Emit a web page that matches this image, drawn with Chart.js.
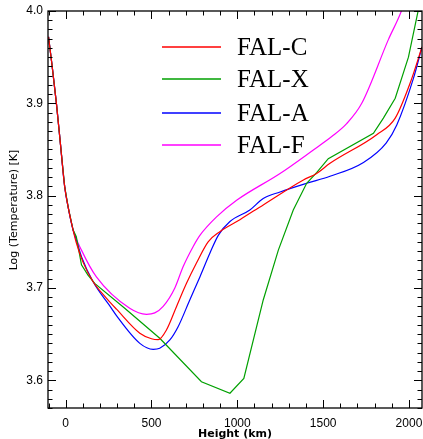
<!DOCTYPE html>
<html>
<head>
<meta charset="utf-8">
<script src="https://cdn.jsdelivr.net/npm/chart.js@4"></script>
<style>
  html, body { margin: 0; padding: 0; background: #fff; }
  #wrap { width: 423px; height: 439px; position: relative; }
</style>
</head>
<body>
<div id="wrap"><canvas id="falChart"></canvas></div>
<script>
// FAL model temperature profiles
const seriesNames = ['FAL-C', 'FAL-X', 'FAL-A', 'FAL-F'];
const seriesColors = ['#ff0000', '#00a000', '#0000ff', '#ff00ff'];

const heightC = [-100, -80, -54, -30, -6, 15, 43, 62, 101, 159, 237, 296, 432, 500, 539, 587, 646, 704, 762, 830, 898, 1015, 1151, 1385, 1462, 1540, 1812, 1920, 2007, 2076];
const logTC   = [3.972, 3.942, 3.900, 3.855, 3.810, 3.787, 3.763, 3.749, 3.728, 3.707, 3.689, 3.677, 3.651, 3.645, 3.644, 3.6545, 3.680, 3.705, 3.727, 3.750, 3.761, 3.774, 3.790, 3.817, 3.824, 3.835, 3.866, 3.884, 3.922, 3.961];

const heightX = [-100, -80, -54, -30, -6, 15, 43, 62, 92, 130, 169, 344, 548, 791, 957, 1038, 1151, 1239, 1326, 1404, 1462, 1530, 1793, 1851, 1920, 1997, 2060];
const logTX   = [3.972, 3.942, 3.900, 3.855, 3.810, 3.787, 3.763, 3.7556, 3.725, 3.714, 3.705, 3.678, 3.6455, 3.5985, 3.586, 3.602, 3.687, 3.741, 3.7845, 3.8134, 3.825, 3.840, 3.8676, 3.884, 3.9055, 3.950, 4.006];

const heightA = [-100, -80, -54, -30, -6, 15, 43, 62, 92, 159, 267, 296, 432, 510, 548, 607, 655, 723, 782, 840, 889, 957, 1073, 1151, 1249, 1404, 1540, 1735, 1867, 1929, 2026, 2076];
const logTA   = [3.972, 3.942, 3.900, 3.855, 3.810, 3.787, 3.763, 3.752, 3.734, 3.707, 3.678, 3.670, 3.640, 3.6336, 3.6347, 3.6437, 3.658, 3.687, 3.712, 3.7376, 3.757, 3.772, 3.7845, 3.797, 3.804, 3.8134, 3.821, 3.836, 3.857, 3.8766, 3.927, 3.961];

const heightF = [-100, -80, -54, -30, -6, 15, 43, 92, 179, 373, 471, 519, 568, 636, 684, 743, 782, 879, 996, 1249, 1443, 1550, 1637, 1725, 1880, 1958, 1990];
const logTF   = [3.972, 3.942, 3.900, 3.855, 3.810, 3.787, 3.763, 3.741, 3.712, 3.678, 3.6715, 3.673, 3.680, 3.700, 3.723, 3.745, 3.757, 3.777, 3.795, 3.824, 3.8495, 3.864, 3.878, 3.900, 3.969, 4.001, 4.02];

const xMajorTicks = [0, 500, 1000, 1500, 2000];
const yMajorTicks = [3.6, 3.7, 3.8, 3.9, 4.0];

function toPoints(xs, ys) {
    return xs.map((x, i) => ({ x: x, y: ys[i] }));
}

const allHeights = [heightC, heightX, heightA, heightF];
const allLogT = [logTC, logTX, logTA, logTF];

// IDL-style box with inward ticks on all four sides
const frameTicks = {
    id: 'frameTicks',
    afterDatasetsDraw(chart) {
        const ctx = chart.ctx;
        const a = chart.chartArea;
        const xs = chart.scales.x;
        const ys = chart.scales.y;
        ctx.save();
        ctx.strokeStyle = '#000';
        ctx.lineWidth = 1.3;
        ctx.strokeRect(a.left, a.top, a.right - a.left, a.bottom - a.top);
        ctx.lineWidth = 1;
        ctx.beginPath();
        for (let v = -100; v <= xs.max; v += 100) {
            if (v < xs.min) continue;
            const px = Math.round(xs.getPixelForValue(v)) + 0.5;
            const len = v % 500 === 0 ? 8 : 4.5;
            ctx.moveTo(px, a.bottom); ctx.lineTo(px, a.bottom - len);
            ctx.moveTo(px, a.top); ctx.lineTo(px, a.top + len);
        }
        for (let k = 357; k <= 400; k++) {
            const v = k / 100;
            if (v < ys.min) continue;
            const py = Math.round(ys.getPixelForValue(v)) + 0.5;
            const len = k % 10 === 0 ? 8 : 4.5;
            ctx.moveTo(a.left, py); ctx.lineTo(a.left + len, py);
            ctx.moveTo(a.right, py); ctx.lineTo(a.right - len, py);
        }
        ctx.stroke();

        // axis titles
        ctx.fillStyle = '#000';
        ctx.font = 'bold 11px "DejaVu Sans"';
        ctx.textAlign = 'center';
        ctx.textBaseline = 'middle';
        ctx.fillText('Height (km)', 235, 434);
        ctx.save();
        ctx.translate(14, 210);
        ctx.rotate(-Math.PI / 2);
        ctx.font = '11px "DejaVu Sans"';
        ctx.fillText('Log (Temperature) [K]', 0, 0);
        ctx.restore();

        // legend inside the plot
        ctx.font = '25px "Liberation Serif"';
        ctx.textAlign = 'left';
        ctx.textBaseline = 'alphabetic';
        const legendY = [47, 79, 113, 145];
        chart.data.datasets.forEach((ds, i) => {
            ctx.strokeStyle = ds.borderColor;
            ctx.lineWidth = 1.3;
            ctx.beginPath();
            ctx.moveTo(162, legendY[i]);
            ctx.lineTo(221, legendY[i]);
            ctx.stroke();
            ctx.fillText(ds.label, 237, legendY[i] + 8);
        });
        ctx.restore();
    }
};

function noOverhang(scale) {
    scale.paddingLeft = 0;
    scale.paddingRight = 0;
    scale.paddingTop = 0;
    scale.paddingBottom = 0;
}

const ctx = document.getElementById('falChart').getContext('2d');
new Chart(ctx, {
    type: 'scatter',
    data: {
        datasets: seriesNames.map((name, i) => ({
            label: name,
            data: toPoints(allHeights[i], allLogT[i]),
            showLine: true,
            borderColor: seriesColors[i],
            backgroundColor: seriesColors[i],
            borderWidth: 1.2,
            pointRadius: 0,
            cubicInterpolationMode: name === 'FAL-X' ? 'default' : 'monotone',
            tension: 0
        }))
    },
    options: {
        responsive: true,
        maintainAspectRatio: false,
        animation: false,
        layout: { padding: { top: 11, right: 1, left: 0, bottom: 0 } },
        plugins: {
            legend: { display: false },
            tooltip: { enabled: false }
        },
        scales: {
            x: {
                type: 'linear',
                min: -103,
                max: 2076,
                afterFit(scale) { scale.height = 31; noOverhang(scale); },
                afterBuildTicks(scale) { scale.ticks = xMajorTicks.map(v => ({ value: v })); },
                grid: { display: false, drawTicks: false },
                border: { display: false },
                ticks: {
                    color: '#000',
                    padding: 8,
                    font: { family: '"Liberation Sans"', size: 12 },
                    maxRotation: 0,
                    callback: v => String(v)
                }
            },
            y: {
                type: 'linear',
                min: 3.57,
                max: 4.0,
                afterFit(scale) { scale.width = 48; noOverhang(scale); },
                afterBuildTicks(scale) { scale.ticks = yMajorTicks.map(v => ({ value: v })); },
                grid: { display: false, drawTicks: false },
                border: { display: false },
                ticks: {
                    color: '#000',
                    padding: 5,
                    font: { family: '"Liberation Sans"', size: 12 },
                    callback: v => v.toFixed(1)
                }
            }
        }
    },
    plugins: [frameTicks]
});
</script>
</body>
</html>
